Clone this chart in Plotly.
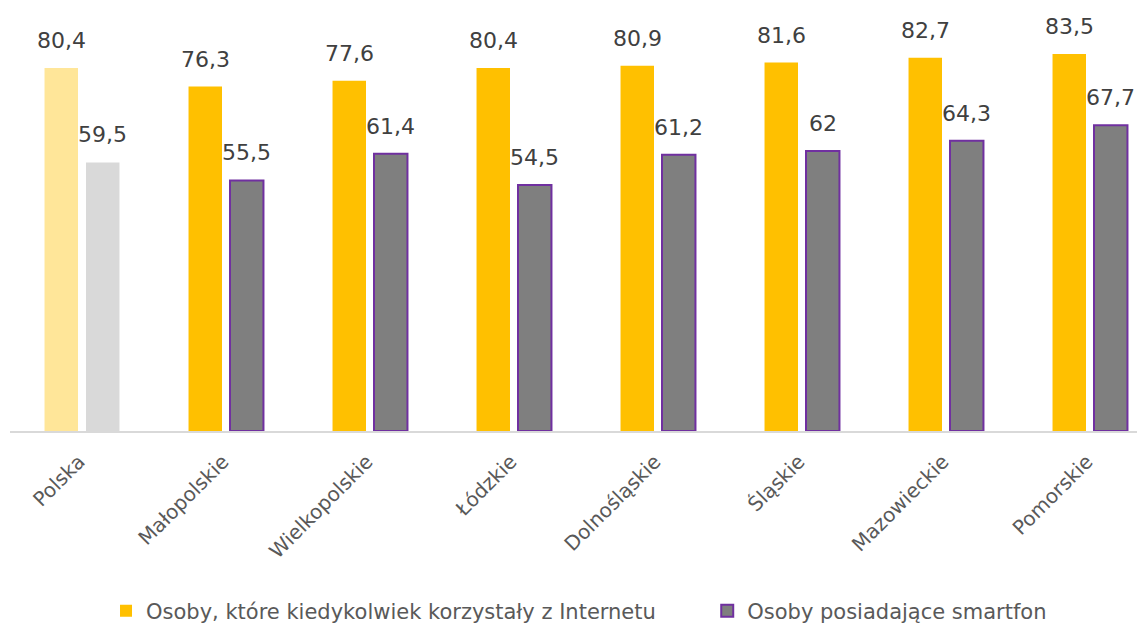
import plotly.graph_objects as go

categories = ["Polska", "Małopolskie", "Wielkopolskie", "Łódzkie", "Dolnośląskie",
              "Śląskie", "Mazowieckie", "Pomorskie"]
internet = [80.4, 76.3, 77.6, 80.4, 80.9, 81.6, 82.7, 83.5]
smartfon = [59.5, 55.5, 61.4, 54.5, 61.2, 62.0, 64.3, 67.7]
series_names = ["Osoby, które kiedykolwiek korzystały z Internetu", "Osoby posiadające smartfon"]

FONT = "DejaVu Sans"
TXT = "#404040"
bargap = 0.424
bargroupgap = 0.193


def fmt(v):
    s = ("%.1f" % v).rstrip("0").rstrip(".")
    return s.replace(".", ",")


fig = go.Figure()
# Polska (national average) in lighter tones
fig.add_trace(go.Bar(x=categories[:1], y=internet[:1], offsetgroup="a", showlegend=False,
                     marker=dict(color="#FFE699", line=dict(width=0)), hoverinfo="skip"))
fig.add_trace(go.Bar(x=categories[:1], y=smartfon[:1], offsetgroup="b", showlegend=False,
                     marker=dict(color="#D9D9D9", line=dict(width=0)), hoverinfo="skip"))
# regions
fig.add_trace(go.Bar(x=categories[1:], y=internet[1:], offsetgroup="a", name=series_names[0],
                     legend="legend",
                     marker=dict(color="#FFC000", line=dict(width=0))))
fig.add_trace(go.Bar(x=categories[1:], y=smartfon[1:], offsetgroup="b", name=series_names[1],
                     legend="legend2",
                     marker=dict(color="#7F7F7F", line=dict(color="#7030A0", width=2))))

slot = (1 - bargap) / 2
for i, c in enumerate(categories):
    for v, off in ((internet[i], -slot / 2), (smartfon[i], slot / 2)):
        fig.add_annotation(x=i + off, y=v, text=fmt(v), showarrow=False, yanchor="bottom",
                           yshift=13, font=dict(family=FONT, size=22, color=TXT))

legend_common = dict(orientation="h", xanchor="left", y=-0.4255, yanchor="middle",
                     font=dict(family=FONT, size=21, color="#595959"),
                     itemwidth=30, bgcolor="rgba(0,0,0,0)")

fig.update_layout(
    width=1145, height=624,
    margin=dict(l=2, r=0, t=0, b=201, autoexpand=False),
    paper_bgcolor="white", plot_bgcolor="white",
    barmode="group", bargap=bargap, bargroupgap=bargroupgap,
    font=dict(family=FONT, color=TXT),
    xaxis=dict(type="category", range=[-0.5, 7.4375], showline=True, linecolor="#D9D9D9",
               linewidth=2, tickangle=-45, ticks="", automargin=False,
               ticklabelstandoff=9, ticklabelshift=-3,
               tickfont=dict(family=FONT, size=20, color="#595959"),
               showgrid=False, zeroline=False),
    yaxis=dict(range=[0, 93.7], visible=False, showgrid=False, zeroline=False),
    legend=dict(x=0.084, **legend_common),
    legend2=dict(x=0.61, **legend_common),
    showlegend=True,
)

fig.write_html("out.html")
